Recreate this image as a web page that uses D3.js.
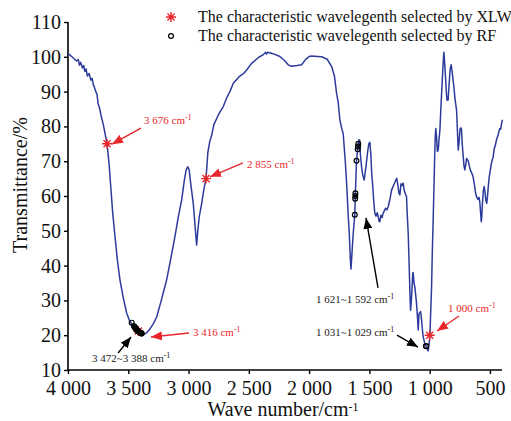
<!DOCTYPE html>
<html>
<head>
<meta charset="utf-8">
<script src="https://cdn.jsdelivr.net/npm/d3@7"></script>
<style>
    body { margin: 0; background: #fff; }
    svg { display: block; }
    svg text { font-family: "Liberation Serif", "Times New Roman", serif !important; }
</style>
</head>
<body>
<script>
/*
*    FTIR spectrum with selected wavelengths
*/

// spectrum (wave number in cm-1, transmittance in %)
var waveNumber = [4000, 3960, 3930, 3915, 3905, 3895, 3880, 3870, 3860, 3850, 3840, 3825, 3810, 3800, 3790, 3780,
    3770, 3760, 3750, 3740, 3725, 3707, 3690, 3676, 3660, 3645, 3630, 3610, 3590, 3569, 3540, 3513, 3490, 3472,
    3450, 3430, 3410, 3388, 3370, 3350, 3320, 3290, 3264, 3230, 3200, 3182, 3150, 3113, 3085, 3057, 3035, 3020,
    3007, 2995, 2980, 2961, 2945, 2933, 2922, 2911, 2891, 2875, 2855, 2840, 2825, 2808, 2790, 2750, 2712, 2680,
    2657, 2629, 2580, 2540, 2518, 2477, 2420, 2380, 2360, 2352, 2345, 2300, 2242, 2200, 2170, 2145, 2100, 2062,
    2030, 2000, 1979, 1930, 1896, 1850, 1813, 1790, 1772, 1759, 1745, 1730, 1717, 1700, 1689, 1675, 1667, 1658,
    1653, 1648, 1640, 1634, 1621, 1618, 1616, 1607, 1597, 1592, 1586, 1583, 1580, 1575, 1565, 1555, 1543, 1530,
    1515, 1505, 1496, 1488, 1480, 1474, 1465, 1455, 1445, 1435, 1427, 1420, 1413, 1405, 1395, 1386, 1375, 1365,
    1355, 1344, 1330, 1316, 1300, 1290, 1274, 1265, 1255, 1247, 1238, 1230, 1220, 1210, 1200, 1192, 1185, 1178,
    1170, 1162, 1158, 1150, 1140, 1137, 1130, 1123, 1116, 1109, 1100, 1095, 1088, 1081, 1075, 1067, 1060, 1054,
    1040, 1031, 1025, 1012, 1005, 998, 990, 984, 978, 971, 964, 957, 953, 949, 943, 936, 929, 922, 915, 908, 901,
    893, 886, 882, 878, 870, 860, 855, 847, 838, 830, 822, 815, 808, 799, 790, 777, 770, 763, 756, 748, 741, 736,
    730, 722, 715, 708, 700, 694, 688, 681, 670, 660, 650, 640, 630, 620, 611, 600, 590, 584, 577, 572, 568, 562,
    555, 548, 542, 535, 527, 520, 513, 506, 501, 490, 480, 473, 465, 456, 446, 440, 432, 425, 418, 411, 404, 396];
var transmittance = [101.0, 99.8, 98.8, 99.2, 97.6, 98.4, 96.8, 97.5, 95.8, 96.5, 94.5, 95.2, 93.3, 93.8, 92.0, 91.2,
    90.0, 89.3, 86.5, 85.5, 83.0, 80.5, 77.5, 75.0, 69.5, 62.5, 55.5, 48.3, 41.5, 35.9, 30.5, 26.3, 24.2, 23.3,
    22.2, 21.3, 20.8, 20.4, 20.3, 20.6, 21.8, 23.4, 25.3, 29.5, 33.5, 35.9, 41.5, 48.3, 54.0, 58.9, 64.5, 67.5,
    68.4, 67.5, 63.0, 57.9, 51.0, 45.9, 50.5, 54.1, 57.9, 61.5, 65.0, 72.5, 75.5, 77.5, 80.5, 83.5, 85.7, 88.5,
    90.0, 92.4, 94.3, 95.3, 96.2, 98.1, 99.8, 100.6, 101.3, 100.8, 101.3, 100.9, 100.1, 98.8, 97.6, 97.3, 97.5, 97.7,
    99.2, 100.1, 100.2, 100.1, 100.0, 99.3, 97.2, 94.5, 89.5, 87.0, 81.9, 79.5, 77.8, 70.0, 63.7, 54.0, 49.3, 42.0,
    39.0, 41.5, 46.0, 49.3, 54.6, 59.2, 60.8, 70.1, 73.4, 75.0, 76.2, 74.8, 76.0, 72.0, 68.4, 66.0, 64.6, 68.0,
    72.5, 75.0, 75.4, 72.0, 66.0, 63.7, 59.0, 55.0, 54.2, 55.2, 54.1, 52.8, 52.6, 54.5, 53.8, 55.0, 55.8, 56.5,
    56.0, 56.9, 59.0, 61.7, 63.0, 63.8, 65.1, 63.5, 60.8, 60.3, 63.5, 63.0, 63.7, 61.5, 60.5, 59.8, 54.0, 49.3,
    40.0, 30.0, 27.2, 31.0, 37.8, 38.0, 35.0, 33.9, 31.5, 29.2, 24.5, 21.5, 26.3, 26.5, 26.8, 24.4, 21.5, 19.6,
    17.6, 16.9, 16.2, 15.5, 17.5, 20.0, 28.0, 33.9, 44.0, 53.1, 63.0, 73.2, 77.5, 79.4, 77.0, 72.8, 73.2, 76.5, 79.0, 84.5, 89.5,
    95.0, 99.5, 101.3, 99.5, 95.0, 89.0, 87.5, 87.6, 92.5, 96.5, 97.7, 96.0, 94.0, 91.4, 88.0, 84.7, 79.0, 73.2, 75.5, 79.2, 79.6, 79.2,
    75.0, 71.5, 68.5, 67.5, 69.2, 70.8, 70.5, 70.2, 68.5, 67.2, 66.5, 65.6, 63.5, 61.0, 59.8, 59.0, 59.6, 58.2, 55.0, 52.6, 54.0, 58.0,
    61.5, 62.7, 61.5, 59.0, 57.9, 60.0, 63.0, 65.5, 66.5, 69.0, 70.5, 71.3, 73.5, 74.5, 76.1, 76.8, 77.5, 78.7, 79.4, 79.2, 80.8, 81.9];

// wavelengths selected by XLW (stars)
var xlwWave = [3676, 3416, 2855, 1000];
var xlwTrans = [75.0, 21.2, 65.0, 20.0];

// wavelengths selected by RF (open circles)
var rfWave = [3472, 3452, 3448, 3444, 3440, 3436, 3432, 3428, 3424, 3420, 3412, 3404, 3400, 3396, 3392, 3388,
    1621, 1618, 1617, 1616, 1607, 1597, 1595, 1592, 1031, 1029];
var rfTrans = [23.6, 22.6, 22.4, 22.2, 22.0, 21.8, 21.6, 21.4, 21.3, 21.2, 21.0, 20.8, 20.7, 20.6, 20.5, 20.5,
    54.6, 59.2, 60.0, 60.8, 70.1, 73.4, 74.2, 75.0, 16.9, 16.8];

var xTicks = [4000, 3500, 3000, 2500, 2000, 1500, 1000, 500];
var yTicks = [10, 20, 30, 40, 50, 60, 70, 80, 90, 100, 110];

var legendLabels = ["The characteristic wavelegenth selected by XLW",
    "The characteristic wavelegenth selected by RF"];

// annotation text, tip of arrow in data units, tail + text offset in px from tip
var notes = [
    {text: "3 676 cm", color: "#e8262b", wn: 3635, t: 74.9, tail: [29, -16], label: [32, -20]},
    {text: "2 855 cm", color: "#e8262b", wn: 2822, t: 65.5, tail: [33, -14], label: [37, -9]},
    {text: "3 416 cm", color: "#e8262b", wn: 3312, t: 19.5, tail: [38, -4], label: [42, -1]},
    {text: "1 000 cm", color: "#e8262b", wn: 939, t: 21.2, tail: [22, -15], label: [11, -19]},
    {text: "3 472~3 388 cm", color: "#000", wn: 3477, t: 19.5, tail: [-13, 16], label: [-39, 25]},
    {text: "1 621~1 592 cm", color: "#000", wn: 1528, t: 53.7, tail: [12, 70], label: [-50, 85]},
    {text: "1 031~1 029 cm", color: "#000", wn: 1097, t: 16.6, tail: [-21, -12], label: [-102, -11]}
];

var margin = {top: 22, right: 9, bottom: 51, left: 68};
var width = 511 - margin.left - margin.right;
var height = 421 - margin.top - margin.bottom;
var red = "#e8262b";
var serif = "'Liberation Serif', 'Times New Roman', serif";

var svg = d3.select("body")
    .append("svg")
        .attr("width", width + margin.left + margin.right)
        .attr("height", height + margin.top + margin.bottom)
        .attr("font-family", serif);

var g = svg.append("g")
    .attr("transform", "translate(" + margin.left + ", " + margin.top + ")");

var x = d3.scaleLinear()
    .domain([4000, 400])
    .range([0, width]);

var y = d3.scaleLinear()
    .domain([10, 110])
    .range([height, 0]);

var fmt = (d) => {
    return d >= 1000 ? Math.floor(d / 1000) + " " + String(d % 1000).padStart(3, "0") : String(d);
};

// arrow heads
var defs = svg.append("defs");
[["red", red], ["black", "#000"]].forEach((m) => {
    defs.append("marker")
        .attr("id", "head-" + m[0])
        .attr("markerUnits", "userSpaceOnUse")
        .attr("markerWidth", 12)
        .attr("markerHeight", 10)
        .attr("viewBox", "0 0 12 10")
        .attr("refX", 11)
        .attr("refY", 5)
        .attr("orient", "auto")
    .append("path")
        .attr("d", "M0,0.5 L11,5 L0,9.5 Z")
        .attr("fill", m[1]);
});

// axes
var bottomAxis = d3.axisBottom(x)
    .tickValues(xTicks)
    .tickSize(4)
    .tickPadding(7)
    .tickFormat(fmt);
var xAxis = g.append("g")
    .attr("class", "bottom axis")
    .attr("transform", "translate(0, " + height + ")")
    .call(bottomAxis);

var leftAxis = d3.axisLeft(y)
    .tickValues(yTicks)
    .tickSize(4)
    .tickPadding(3);
var yAxis = g.append("g")
    .attr("class", "left axis")
    .call(leftAxis);

[xAxis, yAxis].forEach((a) => {
    a.attr("font-family", serif).attr("font-size", 20);
    a.select(".domain").attr("stroke-width", 1.6);
    a.selectAll(".tick line").attr("stroke-width", 1.4);
    a.selectAll("text")
        .style("font-family", serif)
        .style("font-size", "20px")
        .attr("fill", "#111");
});
xAxis.select(".domain").attr("d", "M0,0H" + width);
yAxis.select(".domain").attr("d", "M0," + height + "V0");

// spectrum
var spectrum = waveNumber.map((w, i) => { return {wn: w, t: transmittance[i]}; });
g.append("path")
    .datum(spectrum)
    .attr("fill", "none")
    .attr("stroke", "#2c3b9b")
    .attr("stroke-width", 1.5)
    .attr("stroke-linejoin", "round")
    .attr("d", d3.line()
        .x((d) => { return x(d.wn); })
        .y((d) => { return y(d.t); }));

function star(r) {
    var p = "";
    [0, 45, 90, 135].forEach((a) => {
        var c = Math.cos(a * Math.PI / 180) * r, s = Math.sin(a * Math.PI / 180) * r;
        p += "M" + (-c) + "," + (-s) + "L" + c + "," + s;
    });
    return p;
}

// XLW stars
g.selectAll(".xlw")
    .data(xlwWave)
    .enter()
    .append("path")
        .attr("class", "xlw")
        .attr("transform", (d, i) => { return "translate(" + x(d) + "," + y(xlwTrans[i]) + ")"; })
        .attr("d", star(5))
        .attr("stroke", red)
        .attr("stroke-width", 1.4);

// RF circles
g.selectAll(".rf")
    .data(rfWave)
    .enter()
    .append("circle")
        .attr("class", "rf")
        .attr("cx", (d) => { return x(d); })
        .attr("cy", (d, i) => { return y(rfTrans[i]); })
        .attr("r", 2.4)
        .attr("fill", "none")
        .attr("stroke", "#000")
        .attr("stroke-width", 1.2);

// annotations
notes.forEach((n) => {
    var tx = x(n.wn), ty = y(n.t);
    g.append("line")
        .attr("x1", tx + n.tail[0])
        .attr("y1", ty + n.tail[1])
        .attr("x2", tx)
        .attr("y2", ty)
        .attr("stroke", n.color)
        .attr("stroke-width", 1.4)
        .attr("marker-end", "url(#head-" + (n.color === red ? "red" : "black") + ")");

    var lbl = g.append("text")
        .attr("x", tx + n.label[0])
        .attr("y", ty + n.label[1])
        .attr("font-size", "11px")
        .attr("fill", n.color === red ? red : "#222")
        .text(n.text);
    lbl.append("tspan")
        .attr("dy", "-4")
        .attr("font-size", "8px")
        .text("-1");
});

// legend
var legend = svg.append("g")
    .attr("transform", "translate(171, 0)");
legend.append("path")
    .attr("transform", "translate(0, 17)")
    .attr("d", star(5))
    .attr("stroke", red)
    .attr("stroke-width", 1.4);
legend.append("circle")
    .attr("cx", 0)
    .attr("cy", 36)
    .attr("r", 2.4)
    .attr("fill", "none")
    .attr("stroke", "#000")
    .attr("stroke-width", 1.2);
legend.selectAll(".legend-text")
    .data(legendLabels)
    .enter()
    .append("text")
        .attr("class", "legend-text")
        .attr("x", 27)
        .attr("y", (d, i) => { return 22 + i * 19; })
        .attr("font-size", "16px")
        .attr("fill", "#111")
        .text((d) => { return d; });

// axis titles
var xTitle = svg.append("text")
    .attr("x", 283)
    .attr("y", 416)
    .attr("font-size", "20px")
    .attr("text-anchor", "middle")
    .style("fill", "#111")
    .text("Wave number/cm");
xTitle.append("tspan")
    .attr("dy", "-5")
    .attr("font-size", "12px")
    .text("-1");

svg.append("text")
    .attr("x", -185)
    .attr("y", 27)
    .attr("font-size", "20px")
    .attr("text-anchor", "middle")
    .attr("transform", "rotate(-90)")
    .style("fill", "#111")
    .text("Transmittance/%");
</script>
</body>
</html>
